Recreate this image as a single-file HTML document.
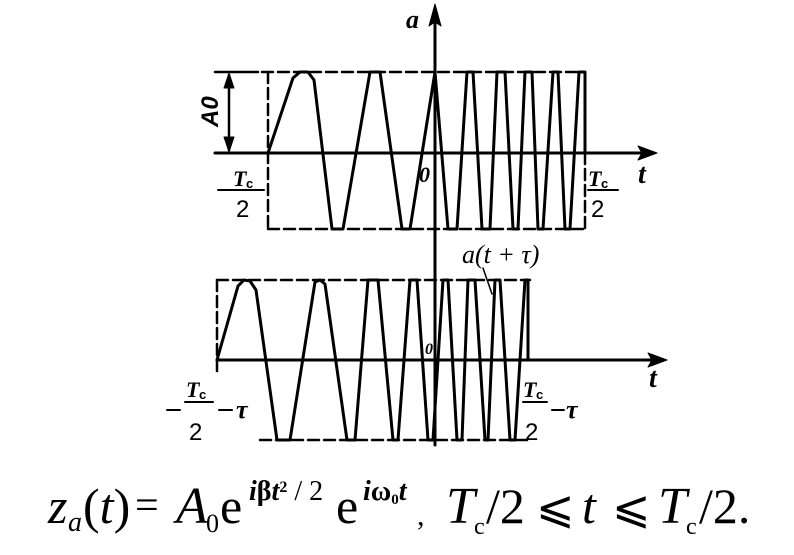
<!DOCTYPE html>
<html><head><meta charset="utf-8"><style>
html,body{margin:0;padding:0;background:#fff;}
svg{display:block;}
.it{font-family:"Liberation Serif",serif;font-style:italic;}
.sn{font-family:"Liberation Sans",sans-serif;}
</style></head><body>
<svg width="794" height="555" viewBox="0 0 794 555" xmlns="http://www.w3.org/2000/svg">
<g stroke="#000" fill="none" stroke-linejoin="round" stroke-linecap="round">
<line x1="215" y1="153" x2="645" y2="153" stroke-width="3"/>
<polygon points="657,153 638,146 642,153 638,160" fill="#000" stroke-width="1"/>
<line x1="435" y1="20" x2="435" y2="445" stroke-width="3"/>
<polygon points="435,4 429,26 435,22 441,26" fill="#000" stroke-width="1"/>
<line x1="215" y1="72" x2="258" y2="72" stroke-width="2.5"/>
<line x1="262" y1="72" x2="585" y2="72" stroke-width="2.5" stroke-dasharray="11,5"/>
<line x1="268" y1="229" x2="585" y2="229" stroke-width="2.5" stroke-dasharray="11,5"/>
<line x1="268" y1="72" x2="268" y2="229" stroke-width="2.5" stroke-dasharray="11,5"/>
<line x1="585" y1="153" x2="585" y2="229" stroke-width="2.5" stroke-dasharray="11,5"/>
<polyline stroke-width="3" points="268,153 293,78 300,72 308,72 314,80 332,229 343,229 370,72 380,72 402,229 410,229 435,72 448,229 457,229 467,72 473,72 482,229 490,229 497,72 505,72 513,229 518,229 525,72 532,72 538,229 543,229 553,72 558,72 565,229 570,229 579,72 585,72 585,153"/>
<line x1="229" y1="75" x2="229" y2="150" stroke-width="2.5"/>
<polygon points="229,73 224,88 234,88" fill="#000" stroke-width="1"/>
<polygon points="229,152 224,137 234,137" fill="#000" stroke-width="1"/>
<line x1="222" y1="190" x2="264" y2="190" stroke-width="2"/>
<line x1="218" y1="190" x2="227" y2="190" stroke-width="2"/>
<line x1="588" y1="190" x2="618" y2="190" stroke-width="2"/>
<line x1="217" y1="360" x2="655" y2="360" stroke-width="3"/>
<polygon points="667,360 648,353 652,360 648,367" fill="#000" stroke-width="1"/>
<line x1="217" y1="280" x2="530" y2="280" stroke-width="2.5" stroke-dasharray="11,5"/>
<line x1="260" y1="440" x2="530" y2="440" stroke-width="2.5" stroke-dasharray="11,5"/>
<line x1="217" y1="280" x2="217" y2="372" stroke-width="2.5" stroke-dasharray="11,5"/>
<polyline stroke-width="3" points="217,360 238,286 244,280 250,281 256,290 277,440 290,440 315,282 320,280 325,284 347,440 355,440 368,280 378,280 393,440 398,440 410,280 417,280 428,440 433,440 443,280 448,280 457,440 462,440 468,280 475,280 485,440 488,440 495,280 500,280 510,440 515,440 525,280 528,280 528,360"/>
<line x1="483" y1="268" x2="492" y2="294" stroke-width="1.5"/>
<line x1="185" y1="402" x2="213" y2="402" stroke-width="2"/>
<line x1="167" y1="410" x2="180" y2="410" stroke-width="2"/>
<line x1="219" y1="410" x2="232" y2="410" stroke-width="2"/>
<line x1="523" y1="402" x2="547" y2="402" stroke-width="2"/>
<line x1="552" y1="410" x2="564" y2="410" stroke-width="2"/>
</g>
<g fill="#000" font-weight="bold">
<text x="406" y="28" class="it" font-size="26">a</text>
<text x="638" y="183" class="it" font-size="28">t</text>
<text x="419" y="182" class="it" font-size="22">0</text>
<text transform="translate(218,127) rotate(-90)" class="sn" font-size="24" font-style="italic">A0</text>
<text x="233" y="186" class="it" font-size="22">T</text><text x="246" y="188" class="sn" font-size="13">c</text>
<text x="236" y="217" class="sn" font-size="24" font-weight="normal">2</text>
<text x="588" y="186" class="it" font-size="22">T</text><text x="601" y="188" class="sn" font-size="13">c</text>
<text x="591" y="217" class="sn" font-size="24" font-weight="normal">2</text>
<text x="462" y="263" class="it" font-size="26" font-weight="normal">a(t + τ)</text>
<text x="425" y="354" class="it" font-size="16">0</text>
<text x="649" y="387" class="it" font-size="28">t</text>
<text x="186" y="397" class="it" font-size="22">T</text><text x="199" y="399" class="sn" font-size="13">c</text>
<text x="189" y="440" class="sn" font-size="24" font-weight="normal">2</text>
<text x="236" y="418" class="it" font-size="26">τ</text>
<text x="523" y="397" class="it" font-size="22">T</text><text x="536" y="399" class="sn" font-size="13">c</text>
<text x="525" y="440" class="sn" font-size="24" font-weight="normal">2</text>
<text x="566" y="418" class="it" font-size="26">τ</text>
</g>
<g fill="#000" font-family="Liberation Serif, serif">
<text x="48" y="523" font-size="50" font-style="italic">z</text>
<text x="68" y="531" font-size="28" font-style="italic">a</text>
<text x="83" y="523" font-size="50">(<tspan font-style="italic">t</tspan>)</text>
<text x="135" y="519" font-size="42">=</text>
<text x="176" y="523" font-size="52" font-style="italic">A</text>
<text x="206" y="532" font-size="26">0</text>
<text x="220" y="523" font-size="50">e</text>
<text x="249" y="500" font-size="28" font-weight="bold"><tspan font-style="italic">i</tspan>β<tspan font-style="italic">t</tspan><tspan font-size="16" dy="-8">2</tspan><tspan dy="8" font-weight="normal"> / 2</tspan></text>
<text x="336" y="523" font-size="50">e</text>
<text x="363" y="500" font-size="28" font-weight="bold"><tspan font-style="italic">i</tspan>ω<tspan font-size="15" dy="4">0</tspan><tspan dy="-4" font-style="italic">t</tspan></text>
<text x="417" y="525" font-size="30">,</text>
<text x="446" y="523" font-size="52" font-style="italic">T</text>
<text x="474" y="534" font-size="24">c</text>
<text x="486" y="523" font-size="50">/2</text>
<text x="536" y="523" font-size="46">⩽</text>
<text x="582" y="523" font-size="50" font-style="italic">t</text>
<text x="612" y="523" font-size="46">⩽</text>
<text x="658" y="523" font-size="52" font-style="italic">T</text>
<text x="686" y="534" font-size="24">c</text>
<text x="699" y="523" font-size="50">/2.</text>
</g>
</svg>
</body></html>
